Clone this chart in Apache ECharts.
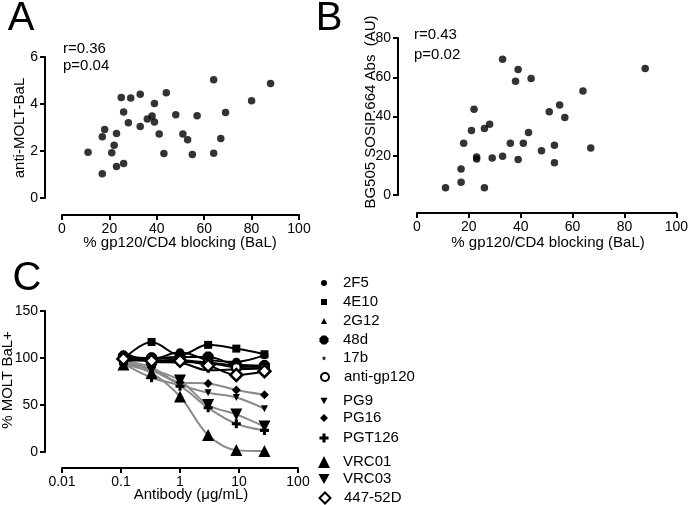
<!DOCTYPE html>
<html>
<head>
<meta charset="utf-8">
<script src="https://cdn.jsdelivr.net/npm/echarts@6/dist/echarts.min.js"></script>
<style>
html,body{margin:0;padding:0;background:#fff;}
#chart{width:691px;height:505px;}
</style>
</head>
<body>
<div id="chart"></div>
<script>
// ---------- Data ----------
const blockingA = [11,17,17,18,21,22,23,23,25,26,26,28,29,33,33,36,38,39,39,41,43,44,48,51,53,55,57,64,64,67,69,80,88];
const antiMoltBaL = [1.95,1.03,2.61,2.92,1.93,2.24,2.75,1.34,4.28,1.47,3.66,3.2,4.26,4.42,3.04,3.36,3.49,4.02,3.23,2.72,1.89,4.48,3.54,2.72,2.48,1.85,3.5,5.03,1.9,2.53,3.64,4.14,4.87];

const blockingB = [11,17,17,18,21,22,23,23,26,26,28,29,33,33,36,38,39,39,41,43,44,48,51,53,53,55,57,64,67,88];
const bg505Abs = [3.7,6.5,13.2,26.4,32.9,43.7,19.3,18.3,3.7,33.9,36.1,18.8,69.2,19.8,26.4,58,63.9,18.1,26.4,31.9,59.3,22.5,42.4,25.4,16.4,45.8,39.5,53,23.9,64.4];

const statsA = ["r=0.36", "p=0.04"];
const statsB = ["r=0.43", "p=0.02"];

const concentrations = [0.11, 0.33, 1, 3, 9, 27];
const antibodyNames = ["2F5","4E10","2G12","48d","17b","anti-gp120","PG9","PG16","PGT126","VRC01","VRC03","447-52D"];
const v2F5      = [100, 99, 106, 98, 96, 103];
const v4E10     = [99, 117, 103, 114, 110, 104];
const v2G12     = [97, 98, 96, 95, 92, 90];
const v48d      = [102, 100, 101, 101, 93, 92];
const v17b      = [106, 96, 95, 87, 88, 89];
const vAntiGp120= [100, 100, 98, 95, 90, 89];
const vPG9      = [95, 87, 72, 63, 58, 46];
const vPG16     = [97, 90, 74, 73, 66, 61];
const vPGT126   = [94, 79, 70, 47, 30, 23];
const vVRC01    = [93, 84, 59, 18, 2, 1];
const vVRC03    = [96, 88, 76, 50, 40, 27];
const v44752D   = [99, 97, 97, 92, 82, 86];

const xTicksAB = [0, 20, 40, 60, 80, 100];
const yTicksA = [0, 2, 4, 6];
const yTicksB = [0, 20, 40, 60, 80];
const xRangeC = [0.01, 100];
const yTicksC = [0, 50, 100, 150];

const titleXA = '% gp120/CD4 blocking (BaL)';
const titleYA = 'anti-MOLT-BaL';
const titleYB = 'BG505 SOSIP.664 Abs  (AU)';
const titleXC = 'Antibody (μg/mL)';
const titleYC = '% MOLT BaL+';

// ---------- Styles ----------
const BLACK = '#000';
const GRAY = '#8a8a8a';
const FONT = 'Liberation Sans, Arial, Helvetica, sans-serif';

const SYM = {
  circle: 'circle',
  square: 'rect',
  triangle: 'triangle',
  octagon: 'path://M3,0 L7,0 L10,3 L10,7 L7,10 L3,10 L0,7 L0,3 Z',
  star: 'path://M5,0 L6.2,3.6 L10,3.6 L6.9,5.9 L8.1,9.5 L5,7.3 L1.9,9.5 L3.1,5.9 L0,3.6 L3.8,3.6 Z',
  down: 'path://M0,0 L10,0 L5,9 Z',
  diamond: 'diamond',
  plus: 'path://M3.3,0 L6.7,0 L6.7,3.3 L10,3.3 L10,6.7 L6.7,6.7 L6.7,10 L3.3,10 L3.3,6.7 L0,6.7 L0,3.3 L3.3,3.3 Z'
};

const seriesDefs = [
  {vals: v2F5, sym: SYM.circle, size: 8, line: BLACK, lsize: 6},
  {vals: v4E10, sym: SYM.square, size: 8, line: BLACK, lsize: 6},
  {vals: v2G12, sym: SYM.triangle, size: 7, line: BLACK, lsize: 6},
  {vals: v48d, sym: SYM.octagon, size: 11, line: BLACK, lsize: 9},
  {vals: v17b, sym: SYM.star, size: 6, line: BLACK, lsize: 5},
  {vals: vAntiGp120, sym: SYM.circle, size: 9, line: BLACK, lsize: 8, hollow: true},
  {vals: vPG9, sym: SYM.down, size: 7, line: GRAY, lsize: 7},
  {vals: vPG16, sym: SYM.diamond, size: 9, line: GRAY, lsize: 8},
  {vals: vPGT126, sym: SYM.plus, size: 9, line: GRAY, lsize: 9},
  {vals: vVRC01, sym: SYM.triangle, size: 12, line: GRAY, lsize: 12},
  {vals: vVRC03, sym: SYM.down, size: 12, line: GRAY, lsize: 11},
  {vals: v44752D, sym: SYM.diamond, size: 12, line: BLACK, lsize: 11, hollow: true}
];
const legendY = [283, 302, 321, 340, 358, 377, 401, 418, 438, 462, 479, 498];

function axisBase(extra) {
  return Object.assign({
    axisLine: {show: true, onZero: false, lineStyle: {color: BLACK, width: 2}},
    axisTick: {show: true, length: 5, lineStyle: {color: BLACK, width: 2}},
    axisLabel: {color: BLACK, fontSize: 14, margin: 7},
    splitLine: {show: false}
  }, extra);
}

function txt(text, x, y, size, align, rotate) {
  return {type: 'text', x: x, y: y, rotation: rotate ? Math.PI / 2 : 0, silent: true,
          style: {text: text, fill: BLACK, font: size + 'px ' + FONT,
                  align: align || 'left', verticalAlign: 'middle'}};
}

const chart = echarts.init(document.getElementById('chart'));

const series = [
  {type: 'scatter', xAxisIndex: 0, yAxisIndex: 0, symbolSize: 7.5,
   data: blockingA.map((x, i) => [x, antiMoltBaL[i]])},
  {type: 'scatter', xAxisIndex: 1, yAxisIndex: 1, symbolSize: 7.5,
   data: blockingB.map((x, i) => [x, bg505Abs[i]])}
];
seriesDefs.forEach((d, i) => {
  series.push({
    type: 'line', name: antibodyNames[i], xAxisIndex: 2, yAxisIndex: 2,
    smooth: 0.35, symbol: d.sym, symbolSize: d.size, showAllSymbol: true,
    z: d.line === GRAY ? 3 : 4,
    lineStyle: {color: d.line, width: 2},
    itemStyle: d.hollow ? {color: '#fff', borderColor: BLACK, borderWidth: 2.5} : {color: BLACK},
    data: concentrations.map((c, k) => [c, d.vals[k]])
  });
});

const legends = seriesDefs.map((d, i) => ({
  orient: 'vertical', selectedMode: false, padding: 0,
  left: 324 - d.lsize / 2, top: legendY[i] - 8,
  itemWidth: d.lsize, itemHeight: d.lsize,
  data: [{name: antibodyNames[i], icon: d.sym,
          itemStyle: d.hollow ? {color: '#fff', borderColor: BLACK, borderWidth: 2} : {color: BLACK, borderWidth: 0}}],
  textStyle: {color: BLACK, fontSize: 15, fontFamily: FONT, lineHeight: 16,
              padding: [0, 0, 0, Math.max(0, 14 - d.lsize / 2)]}
}));

chart.setOption({
  animation: false,
  color: [BLACK],
  grid: [
    {left: 62, top: 57, width: 237, height: 141},
    {left: 417, top: 38, width: 263, height: 157},
    {left: 62, top: 311, width: 236, height: 141}
  ],
  xAxis: [
    axisBase({gridIndex: 0, type: 'value', min: xTicksAB[0], max: xTicksAB[xTicksAB.length-1], interval: 20, offset: 17}),
    axisBase({gridIndex: 1, type: 'value', min: xTicksAB[0], max: xTicksAB[xTicksAB.length-1], interval: 20, offset: 18}),
    axisBase({gridIndex: 2, type: 'log', logBase: 10, min: xRangeC[0], max: xRangeC[1], offset: 16})
  ],
  yAxis: [
    axisBase({gridIndex: 0, type: 'value', min: yTicksA[0], max: yTicksA[yTicksA.length-1], interval: 2, offset: 17}),
    axisBase({gridIndex: 1, type: 'value', min: yTicksB[0], max: yTicksB[yTicksB.length-1], interval: 20, offset: 19}),
    axisBase({gridIndex: 2, type: 'value', min: yTicksC[0], max: yTicksC[yTicksC.length-1], interval: 50, offset: 17})
  ],
  legend: legends,
  series: series,
  graphic: [
    txt('A', 21, 19, 40, 'center'),
    txt('B', 329, 19, 40, 'center'),
    txt('C', 27, 279, 40, 'center'),
    txt(statsA[0], 63, 49, 15),
    txt(statsA[1], 63, 66, 15),
    txt(statsB[0], 414, 35, 15),
    txt(statsB[1], 414, 55, 15),
    txt(titleXA, 180, 243, 15, 'center'),
    txt(titleXA, 548, 243, 15, 'center'),
    txt(titleXC, 191, 495, 15, 'center'),
    txt(titleYA, 20, 128, 15, 'center', true),
    txt(titleYB, 371, 112, 15, 'center', true),
    txt(titleYC, 8, 380, 15, 'center', true)
  ]
});
</script>
</body>
</html>
